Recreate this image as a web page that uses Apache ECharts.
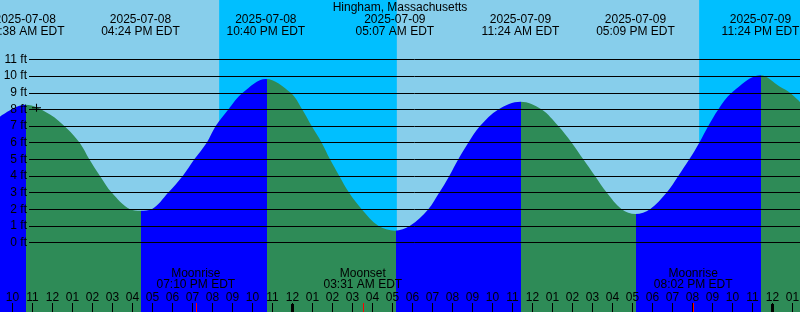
<!DOCTYPE html>
<html><head><meta charset="utf-8">
<script src="https://cdn.jsdelivr.net/npm/echarts@6/dist/echarts.min.js"></script>
<style>html,body{margin:0;padding:0;background:#87CEEB}#c{width:800px;height:312px}</style>
</head><body><div id="c"></div>
<script>
// ---- data (times are hours since 2025-07-08 00:00 EDT) ----
const stationName = 'Hingham, Massachusetts';
const axisStart = 9.375, axisEnd = 49.375;

const curveTimes = [9.375, 10.633, 11.875, 12.71, 13.375, 13.84, 14.375, 14.96, 15.875, 16.4,
  16.96, 17.79, 18.51, 19.09, 19.71, 20.16, 20.79, 21.51, 22.667,
  23.91, 24.49, 24.96, 25.46, 25.875, 26.34, 26.825, 27.46, 28.29, 29.117,
  29.875, 30.79, 31.34, 31.84, 32.29, 32.79, 33.375, 34.29, 35.4,
  36.46, 37.29, 37.96, 38.54, 39.125, 39.71, 40.46, 41.15,
  41.875, 42.71, 43.29, 43.84, 44.34, 44.79, 45.29, 45.96, 47.4,
  48.375, 48.875, 49.375];
const curveHeights = [7.56, 8.28, 7.70, 6.86, 5.96, 5.0, 4.0, 3.0, 2.0, 1.91,
  2.0, 3.0, 4.0, 5.0, 6.0, 7.0, 8.0, 9.0, 9.83,
  9.0, 8.0, 7.0, 6.0, 5.0, 4.0, 3.0, 2.0, 1.0, 0.71,
  1.0, 2.0, 3.0, 4.0, 5.0, 6.0, 7.0, 8.0, 8.46,
  8.0, 7.0, 6.0, 5.0, 4.0, 3.0, 2.0, 1.71,
  2.0, 3.0, 4.0, 5.0, 6.0, 7.0, 8.0, 9.0, 10.05,
  9.36, 9.0, 8.45];

const tideEventTimes  = [10.633, 16.4, 22.667, 29.117, 35.4, 41.15, 47.4];
const tideEventKinds  = ['high', 'low', 'high', 'low', 'high', 'low', 'high'];
const tideEventDates  = ['2025-07-08', '2025-07-08', '2025-07-08', '2025-07-09', '2025-07-09', '2025-07-09', '2025-07-09'];
const tideEventLabels = ['10:38 AM EDT', '04:24 PM EDT', '10:40 PM EDT', '05:07 AM EDT', '11:24 AM EDT', '05:09 PM EDT', '11:24 PM EDT'];

const nightStarts = [20.333, 44.333];   // sunset 08:20 PM
const nightEnds   = [29.217, 53.233];   // sunrise 05:13 AM

const moonTimes  = [19.167, 27.517, 44.033];
const moonNames  = ['Moonrise', 'Moonset', 'Moonrise'];
const moonLabels = ['07:10 PM EDT', '03:31 AM EDT', '08:02 PM EDT'];

const firstHour = 10;
const hourLabels = ['10','11','12','01','02','03','04','05','06','07','08','09','10','11',
  '12','01','02','03','04','05','06','07','08','09','10','11',
  '12','01','02','03','04','05','06','07','08','09','10','11',
  '12','01'];
const midnights = [24, 48];

const depthMin = 0, depthMax = 11, depthUnit = 'ft';
const nowMark = [11.2, 8.1];

// ---- styles / layout ----
const W = 800, H = 312;
const dayColor = '#87CEEB', nightColor = '#00BFFF';
const risingColor = '#0000FF', fallingColor = '#2E8B57';
const font = "'Liberation Sans', Arial, sans-serif";
const ftTopPx = 59.5, ftBottomPx = 242.5, ftLeftPx = 29;
const pxPerFt = (ftBottomPx - ftTopPx) / (depthMax - depthMin);
const yMax = depthMin + ftBottomPx / pxPerFt;
const yMin = depthMin - (H - ftBottomPx) / pxPerFt;
const colorShift = 0.035;

const hourTicks = hourLabels.map((_, i) => firstHour + i);

const pieces = [];
tideEventTimes.forEach((t, i) => {
  const p = { color: tideEventKinds[i] === 'high' ? risingColor : fallingColor, lte: t + colorShift };
  if (i > 0) p.gt = tideEventTimes[i - 1] + colorShift;
  pieces.push(p);
});
const lastI = tideEventTimes.length - 1;
pieces.push({ gt: tideEventTimes[lastI] + colorShift,
  color: tideEventKinds[lastI] === 'high' ? fallingColor : risingColor });

const chart = echarts.init(document.getElementById('c'), null, { renderer: 'canvas' });

const baseX = { type: 'value', gridIndex: 0, min: axisStart, max: axisEnd, position: 'bottom',
  axisLine: { show: false, onZero: false }, splitLine: { show: false }, z: 5 };

chart.setOption({
  animation: false,
  backgroundColor: dayColor,
  grid: [
    { left: 0, right: 0, top: 0, bottom: 0, outerBoundsMode: 'none' },
    { left: ftLeftPx, right: 0, top: ftTopPx, bottom: H - ftBottomPx, outerBoundsMode: 'none' }
  ],
  xAxis: [
    Object.assign({}, baseX, {
      axisTick: { show: true, inside: true, length: 9, customValues: hourTicks, lineStyle: { color: '#000', width: 1 } },
      axisLabel: { show: true, inside: true, margin: 8, customValues: hourTicks,
        formatter: v => hourLabels[Math.round(v - firstHour)], color: '#000', fontSize: 12, fontFamily: font }
    }),
    Object.assign({}, baseX, {
      axisTick: { show: true, inside: true, length: 8, customValues: midnights, lineStyle: { color: '#000', width: 3 } },
      axisLabel: { show: false }
    }),
    Object.assign({}, baseX, {
      axisTick: { show: true, inside: true, length: 9, customValues: moonTimes, lineStyle: { color: '#FF0000', width: 1 } },
      axisLabel: { show: false }
    }),
    { type: 'value', gridIndex: 1, min: 0, max: 1, show: false, axisLine: { show: false, onZero: false } }
  ],
  yAxis: [
    { type: 'value', gridIndex: 0, min: yMin, max: yMax, show: false, axisLine: { show: false, onZero: false } },
    { type: 'value', gridIndex: 1, min: depthMin, max: depthMax, interval: 1, z: 5,
      axisLine: { show: false, onZero: false }, axisTick: { show: false },
      splitLine: { show: true, showMinLine: true, showMaxLine: true, lineStyle: { color: '#000', width: 1 } },
      axisLabel: { formatter: '{value} ' + depthUnit, margin: 2, color: '#000', fontSize: 12, fontFamily: font } }
  ],
  visualMap: { type: 'piecewise', show: false, dimension: 0, seriesIndex: 1, pieces: pieces },
  series: [
    { type: 'custom', xAxisIndex: 0, yAxisIndex: 0, z: 1, silent: true, clip: true,
      data: nightStarts.map((s, i) => [s, nightEnds[i]]),
      encode: { x: [0, 1] },
      renderItem(params, api) {
        const cs = params.coordSys;
        const x0 = Math.max(cs.x, api.coord([api.value(0), 0])[0]);
        const x1 = Math.min(cs.x + cs.width, api.coord([api.value(1), 0])[0]);
        return { type: 'rect', shape: { x: x0, y: cs.y, width: x1 - x0, height: cs.height }, style: { fill: nightColor } };
      } },
    { type: 'line', xAxisIndex: 0, yAxisIndex: 0, z: 2, silent: true,
      data: curveTimes.map((t, i) => [t, curveHeights[i]]),
      smooth: 0.35, symbol: 'none', lineStyle: { width: 0, opacity: 0 },
      areaStyle: { opacity: 1, origin: 'start' } },
    { type: 'scatter', xAxisIndex: 0, yAxisIndex: 0, z: 6, silent: true,
      data: [nowMark], symbol: 'path://M4.5,0L4.5,8M0,4L9,4', symbolSize: [9, 8],
      itemStyle: { color: 'none', borderColor: '#000', borderWidth: 1, opacity: 1 } }
  ]
});

function tx(t) { return chart.convertToPixel({ xAxisIndex: 0 }, t); }
function label(text, x, y) {
  return { type: 'text', x: x, y: y, z: 100, silent: true,
    style: { text: text, fill: '#000', font: '12px ' + font, align: 'center', verticalAlign: 'middle' } };
}
const g = [label(stationName, W / 2, 7.5)];
tideEventTimes.forEach((t, i) => {
  const x = tx(t);
  g.push(label(tideEventDates[i], x, 19.5));
  g.push(label(tideEventLabels[i], x, 31.3));
});
moonTimes.forEach((t, i) => {
  const x = tx(t);
  g.push(label(moonNames[i], x, 273.8));
  g.push(label(moonLabels[i], x, 285));
});
chart.setOption({ graphic: g });
</script></body></html>
